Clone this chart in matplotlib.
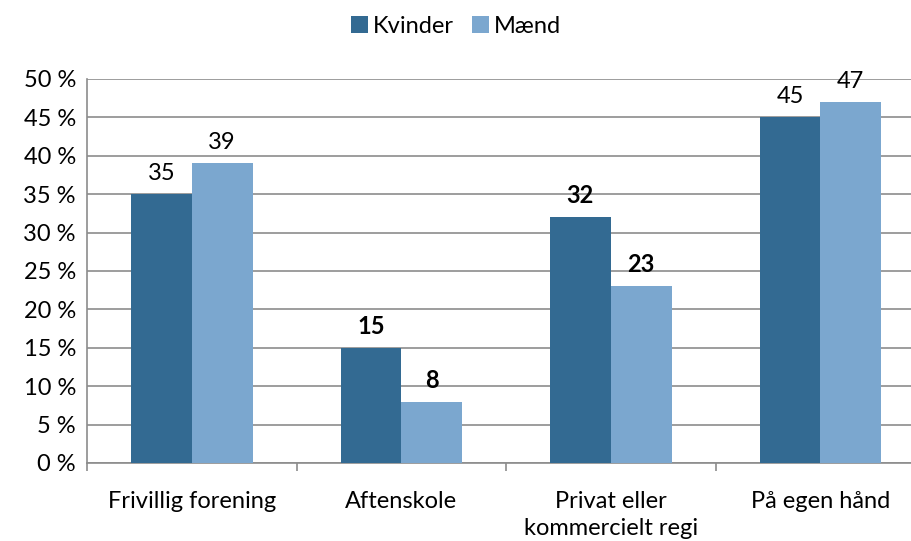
import numpy as np
import matplotlib.pyplot as plt

categories = ['Frivillig forening', 'Aftenskole', 'Privat eller\nkommercielt regi', 'På egen hånd']
kvinder = [35, 15, 32, 45]
maend = [39, 8, 23, 47]
bold_labels = [False, True, True, False]

plt.rcParams['font.family'] = ['Lato', 'DejaVu Sans']
fs = 17

fig = plt.figure(figsize=(9.12, 5.41), dpi=100)
ax = fig.add_axes([0.0954, 0.1442, 0.919, 0.7098])

x = np.arange(len(categories))
w = 0.29
b1 = ax.bar(x - w / 2, kvinder, w, color='#336a92', label='Kvinder', zorder=3)
b2 = ax.bar(x + w / 2, maend, w, color='#7ba7cf', label='Mænd', zorder=3)

for i in range(len(categories)):
    fw = 'bold' if bold_labels[i] else 'normal'
    ax.text(x[i] - w / 2, kvinder[i] + 1.3, str(kvinder[i]), ha='center', va='bottom', fontsize=fs, fontweight=fw)
    ax.text(x[i] + w / 2, maend[i] + 1.3, str(maend[i]), ha='center', va='bottom', fontsize=fs, fontweight=fw)

ax.set_xlim(-0.5, len(categories) - 0.5)
ax.set_ylim(0, 50)
ax.set_yticks(range(0, 51, 5))
ax.set_yticklabels([f'{v} %' for v in range(0, 51, 5)], fontsize=fs)
ax.yaxis.grid(True, color='#8c8c8c', lw=1.2, zorder=0)
ax.tick_params(axis='y', length=0, pad=8)

ax.set_xticks(x)
ax.set_xticklabels(categories, fontsize=fs, linespacing=1.35)
ax.set_xticks(np.arange(len(categories) + 1) - 0.5, minor=True)
ax.tick_params(axis='x', which='major', length=0, pad=20)
ax.tick_params(axis='x', which='minor', length=6, color='#8c8c8c', width=1.2)

for s in ['top', 'right']:
    ax.spines[s].set_visible(False)
ax.spines['left'].set_color('#8c8c8c')
ax.spines['left'].set_linewidth(1.2)
ax.spines['bottom'].set_color('#8c8c8c')
ax.spines['bottom'].set_linewidth(1.2)

fig.legend(handles=[b1, b2], loc='upper center', bbox_to_anchor=(0.5, 1.01), ncol=2, frameon=False,
           fontsize=fs, handlelength=0.7, handleheight=0.7, handletextpad=0.2, columnspacing=0.8)

fig.savefig('out.png', dpi=100)
